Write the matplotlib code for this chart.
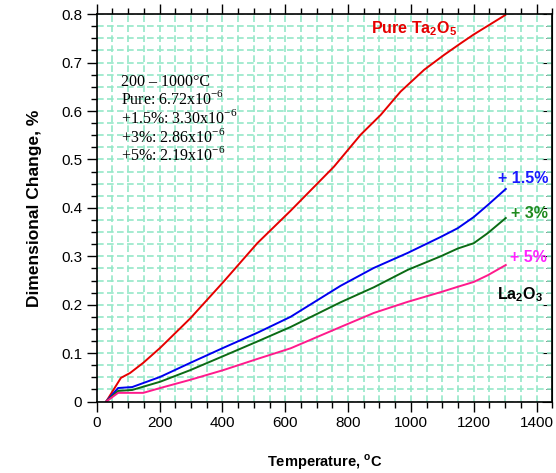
import matplotlib
matplotlib.use("Agg")
import matplotlib.pyplot as plt
from matplotlib.ticker import MultipleLocator

# Dimensional change (%) vs temperature (deg C)
T_PURE = [30, 77, 106, 148, 202, 298, 403, 511, 617, 755, 840, 904, 967, 1042, 1106, 1159,
          1200, 1300]
V_PURE = [0, 0.049, 0.059, 0.080, 0.111, 0.172, 0.247, 0.327, 0.394, 0.485, 0.551, 0.592,
          0.640, 0.685, 0.716, 0.740, 0.758, 0.798]

T_15 = [30, 68, 113, 202, 298, 403, 511, 617, 776, 882, 990, 1095, 1149, 1200, 1245, 1302]
V_15 = [0, 0.028, 0.030, 0.051, 0.080, 0.111, 0.142, 0.175, 0.239, 0.276, 0.307, 0.340,
        0.358, 0.381, 0.406, 0.439]

T_3 = [30, 68, 113, 202, 298, 403, 511, 617, 776, 882, 990, 1095, 1149, 1200, 1245, 1302]
V_3 = [0, 0.022, 0.024, 0.041, 0.065, 0.094, 0.124, 0.154, 0.205, 0.236, 0.272, 0.300,
       0.316, 0.327, 0.348, 0.379]

T_5 = [30, 68, 148, 202, 298, 403, 511, 617, 776, 882, 990, 1095, 1149, 1200, 1245, 1302]
V_5 = [0, 0.018, 0.018, 0.028, 0.045, 0.065, 0.088, 0.110, 0.154, 0.183, 0.206, 0.226,
       0.237, 0.247, 0.261, 0.282]

CTE_LINES = [
    "200 \u2013 1000\u00b0C",
    r"Pure: 6.72x10$^{\mathregular{-6}}$",
    r"+1.5%: 3.30x10$^{\mathregular{-6}}$",
    r"+3%: 2.86x10$^{\mathregular{-6}}$",
    r"+5%: 2.19x10$^{\mathregular{-6}}$",
]


def main():
    plt.rcParams["font.family"] = ["Liberation Sans", "DejaVu Sans"]

    fig = plt.figure(figsize=(5.56, 4.73), dpi=100)
    ax = fig.add_axes([0.174, 0.151, 0.8193, 0.8191])

    ax.plot(T_PURE, V_PURE, color="#e60000", lw=1.4)
    ax.plot(T_15, V_15, color="#0000f0", lw=1.4)
    ax.plot(T_3, V_3, color="#0b6b14", lw=1.4)
    ax.plot(T_5, V_5, color="#ff1a8c", lw=1.4)

    ax.set_xlim(0, 1450)
    ax.set_ylim(0, 0.8)
    ax.xaxis.set_major_locator(MultipleLocator(200))
    ax.xaxis.set_minor_locator(MultipleLocator(50))
    ax.yaxis.set_major_locator(MultipleLocator(0.1))
    ax.yaxis.set_minor_locator(MultipleLocator(0.025))
    ax.set_yticks([0, 0.1, 0.2, 0.3, 0.4, 0.5, 0.6, 0.7, 0.8],
                  ["0", "0.1", "0.2", "0.3", "0.4", "0.5", "0.6", "0.7", "0.8"])

    ax.grid(True, which="both", color="#95e8c8", lw=1.2, ls=(0, (4, 2)))
    ax.set_axisbelow(True)

    ax.tick_params(which="both", direction="out", top=True, right=False,
                   labelsize=11, width=1, color="black")
    ax.tick_params(which="major", length=7)
    ax.tick_params(which="minor", length=4)

    # right side ticks point inward
    right = ax.secondary_yaxis("right")
    right.yaxis.set_major_locator(MultipleLocator(0.1))
    right.yaxis.set_minor_locator(MultipleLocator(0.025))
    right.tick_params(which="both", direction="in", labelright=False)
    right.tick_params(which="major", length=7)
    right.tick_params(which="minor", length=4)

    for s in ax.spines.values():
        s.set_linewidth(1.2)

    ax.set_xlabel(r"Temperature, $^{\mathregular{o}}$C", fontsize=10.5,
                  fontweight="bold", labelpad=16)
    ax.set_ylabel("Dimensional Change, %", fontsize=12.5, fontweight="bold",
                  labelpad=14)

    # curve labels
    ax.text(874, 0.761, r"Pure Ta$\mathregular{_2}$O$\mathregular{_5}$", color="#e60000",
            fontsize=11.5, fontweight="bold", va="baseline")
    ax.text(1277, 0.451, "+ 1.5%", color="#1a1aff", fontsize=11.5,
            fontweight="bold", va="baseline")
    ax.text(1318, 0.379, "+ 3%", color="#1f8a1f", fontsize=11.5,
            fontweight="bold", va="baseline")
    ax.text(1315, 0.289, "+ 5%", color="#ff22ff", fontsize=11.5,
            fontweight="bold", va="baseline")
    ax.text(1274, 0.211, r"La$\mathregular{_2}$O$\mathregular{_3}$", color="black",
            fontsize=11.5, fontweight="bold", va="baseline")

    # CTE summary block
    for i, line in enumerate(CTE_LINES):
        ax.text(77, 0.652 - i * 0.0385, line, fontsize=11.5, va="baseline",
                family=["Liberation Serif", "DejaVu Serif"])

    fig.savefig("out.png", dpi=100)
    plt.close(fig)


if __name__ == "__main__":
    main()
